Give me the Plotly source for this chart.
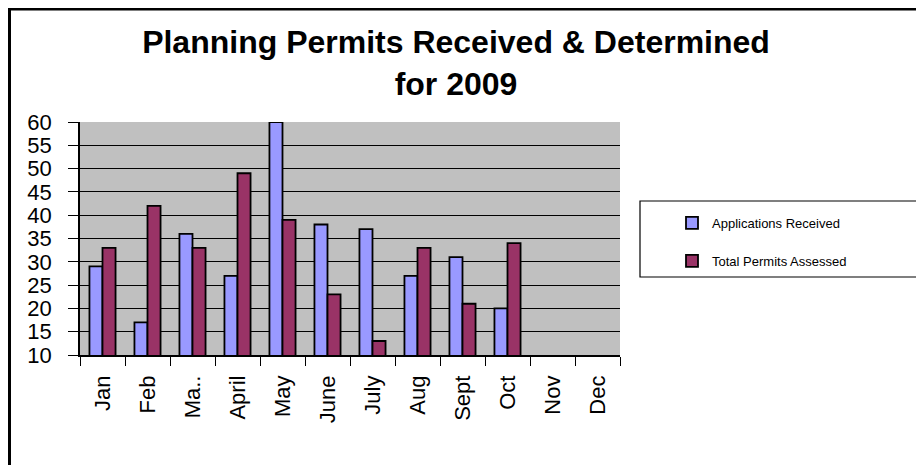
import plotly.graph_objects as go

months = ["Jan", "Feb", "Ma..", "April", "May", "June", "July", "Aug", "Sept", "Oct", "Nov", "Dec"]
applications_received = [29, 17, 36, 27, 60, 38, 37, 27, 31, 20, None, None]
total_permits_assessed = [33, 42, 33, 49, 39, 23, 13, 33, 21, 34, None, None]

# the page places the figure at an 8px offset; work in screen pixels
OFF = 8
W, H = 924 - OFF, 465 - OFF
PL, PR, PT, PB = 80, 620, 122, 355          # plot area in screen pixels
L, T = PL - OFF, PT - OFF
R, B = W - (PR - OFF), H - (PB - OFF)
PW, PH = PR - PL, PB - PT

def px_x(px):
    return (px - PL) / PW

def px_y(py):
    return (PB - py) / PH

FONT = "Liberation Sans, Arial, sans-serif"

fig = go.Figure()
fig.add_trace(go.Bar(
    x=months, y=applications_received, name="Applications Received",
    marker=dict(color="#9999FF", line=dict(color="#000000", width=1.8)),
    legendgroup="a",
))
fig.add_trace(go.Bar(
    x=months, y=total_permits_assessed, name="Total Permits Assessed",
    marker=dict(color="#993366", line=dict(color="#000000", width=1.8)),
    legendgroup="b",
))

shapes = [
    dict(type="rect", xref="paper", yref="paper",
         x0=px_x(640), x1=px_x(919), y0=px_y(277), y1=px_y(201),
         line=dict(color="#000000", width=1.2), fillcolor="rgba(0,0,0,0)", layer="above"),
    # outer chart frame (left and top), kept inside the figure
    dict(type="line", xref="paper", yref="paper",
         x0=px_x(OFF + 1.5), x1=px_x(OFF + 1.5), y0=px_y(OFF), y1=px_y(470),
         line=dict(color="#000000", width=3)),
    dict(type="line", xref="paper", yref="paper",
         x0=px_x(OFF), x1=px_x(930), y0=px_y(OFF + 1.25), y1=px_y(OFF + 1.25),
         line=dict(color="#000000", width=2.5)),
]

fig.update_layout(
    width=W, height=H,
    margin=dict(l=L, r=R, t=T, b=B, autoexpand=False),
    paper_bgcolor="#FFFFFF",
    plot_bgcolor="#C0C0C0",
    barmode="group",
    bargap=0.42,
    bargroupgap=0.0,
    font=dict(family=FONT, color="#000000"),
    title=dict(
        text="<b>Planning Permits Received & Determined<br>for 2009</b>",
        font=dict(family=FONT, size=32, color="#000000"),
        x=(456 - OFF) / W, xref="container", xanchor="center",
        y=1 - 45 / H, yref="container", yanchor="top",
    ),
    legend=dict(
        x=px_x(672), y=px_y(208), xanchor="left", yanchor="top",
        xref="paper", yref="paper",
        bgcolor="rgba(0,0,0,0)", borderwidth=0,
        font=dict(family=FONT, size=13, color="#000000"),
        tracegroupgap=18, itemwidth=30,
    ),
    shapes=shapes,
)

fig.update_xaxes(
    type="category",
    tickangle=-90,
    tickfont=dict(family=FONT, size=22, color="#000000"),
    ticks="outside", ticklen=9, tickcolor="#000000", tickwidth=1,
    tickson="boundaries",
    ticklabelstandoff=10,
    showline=True, linecolor="#000000", linewidth=1.5,
    showgrid=False,
)
fig.update_yaxes(
    range=[10, 60],
    dtick=5, tick0=10,
    tickfont=dict(family=FONT, size=22, color="#000000"),
    ticks="outside", ticklen=10, tickcolor="#000000", tickwidth=1,
    ticklabelstandoff=12,
    showline=True, linecolor="#000000", linewidth=1.5,
    showgrid=True, gridcolor="#000000", gridwidth=1,
    zeroline=False,
)

fig.write_html("out.html")
